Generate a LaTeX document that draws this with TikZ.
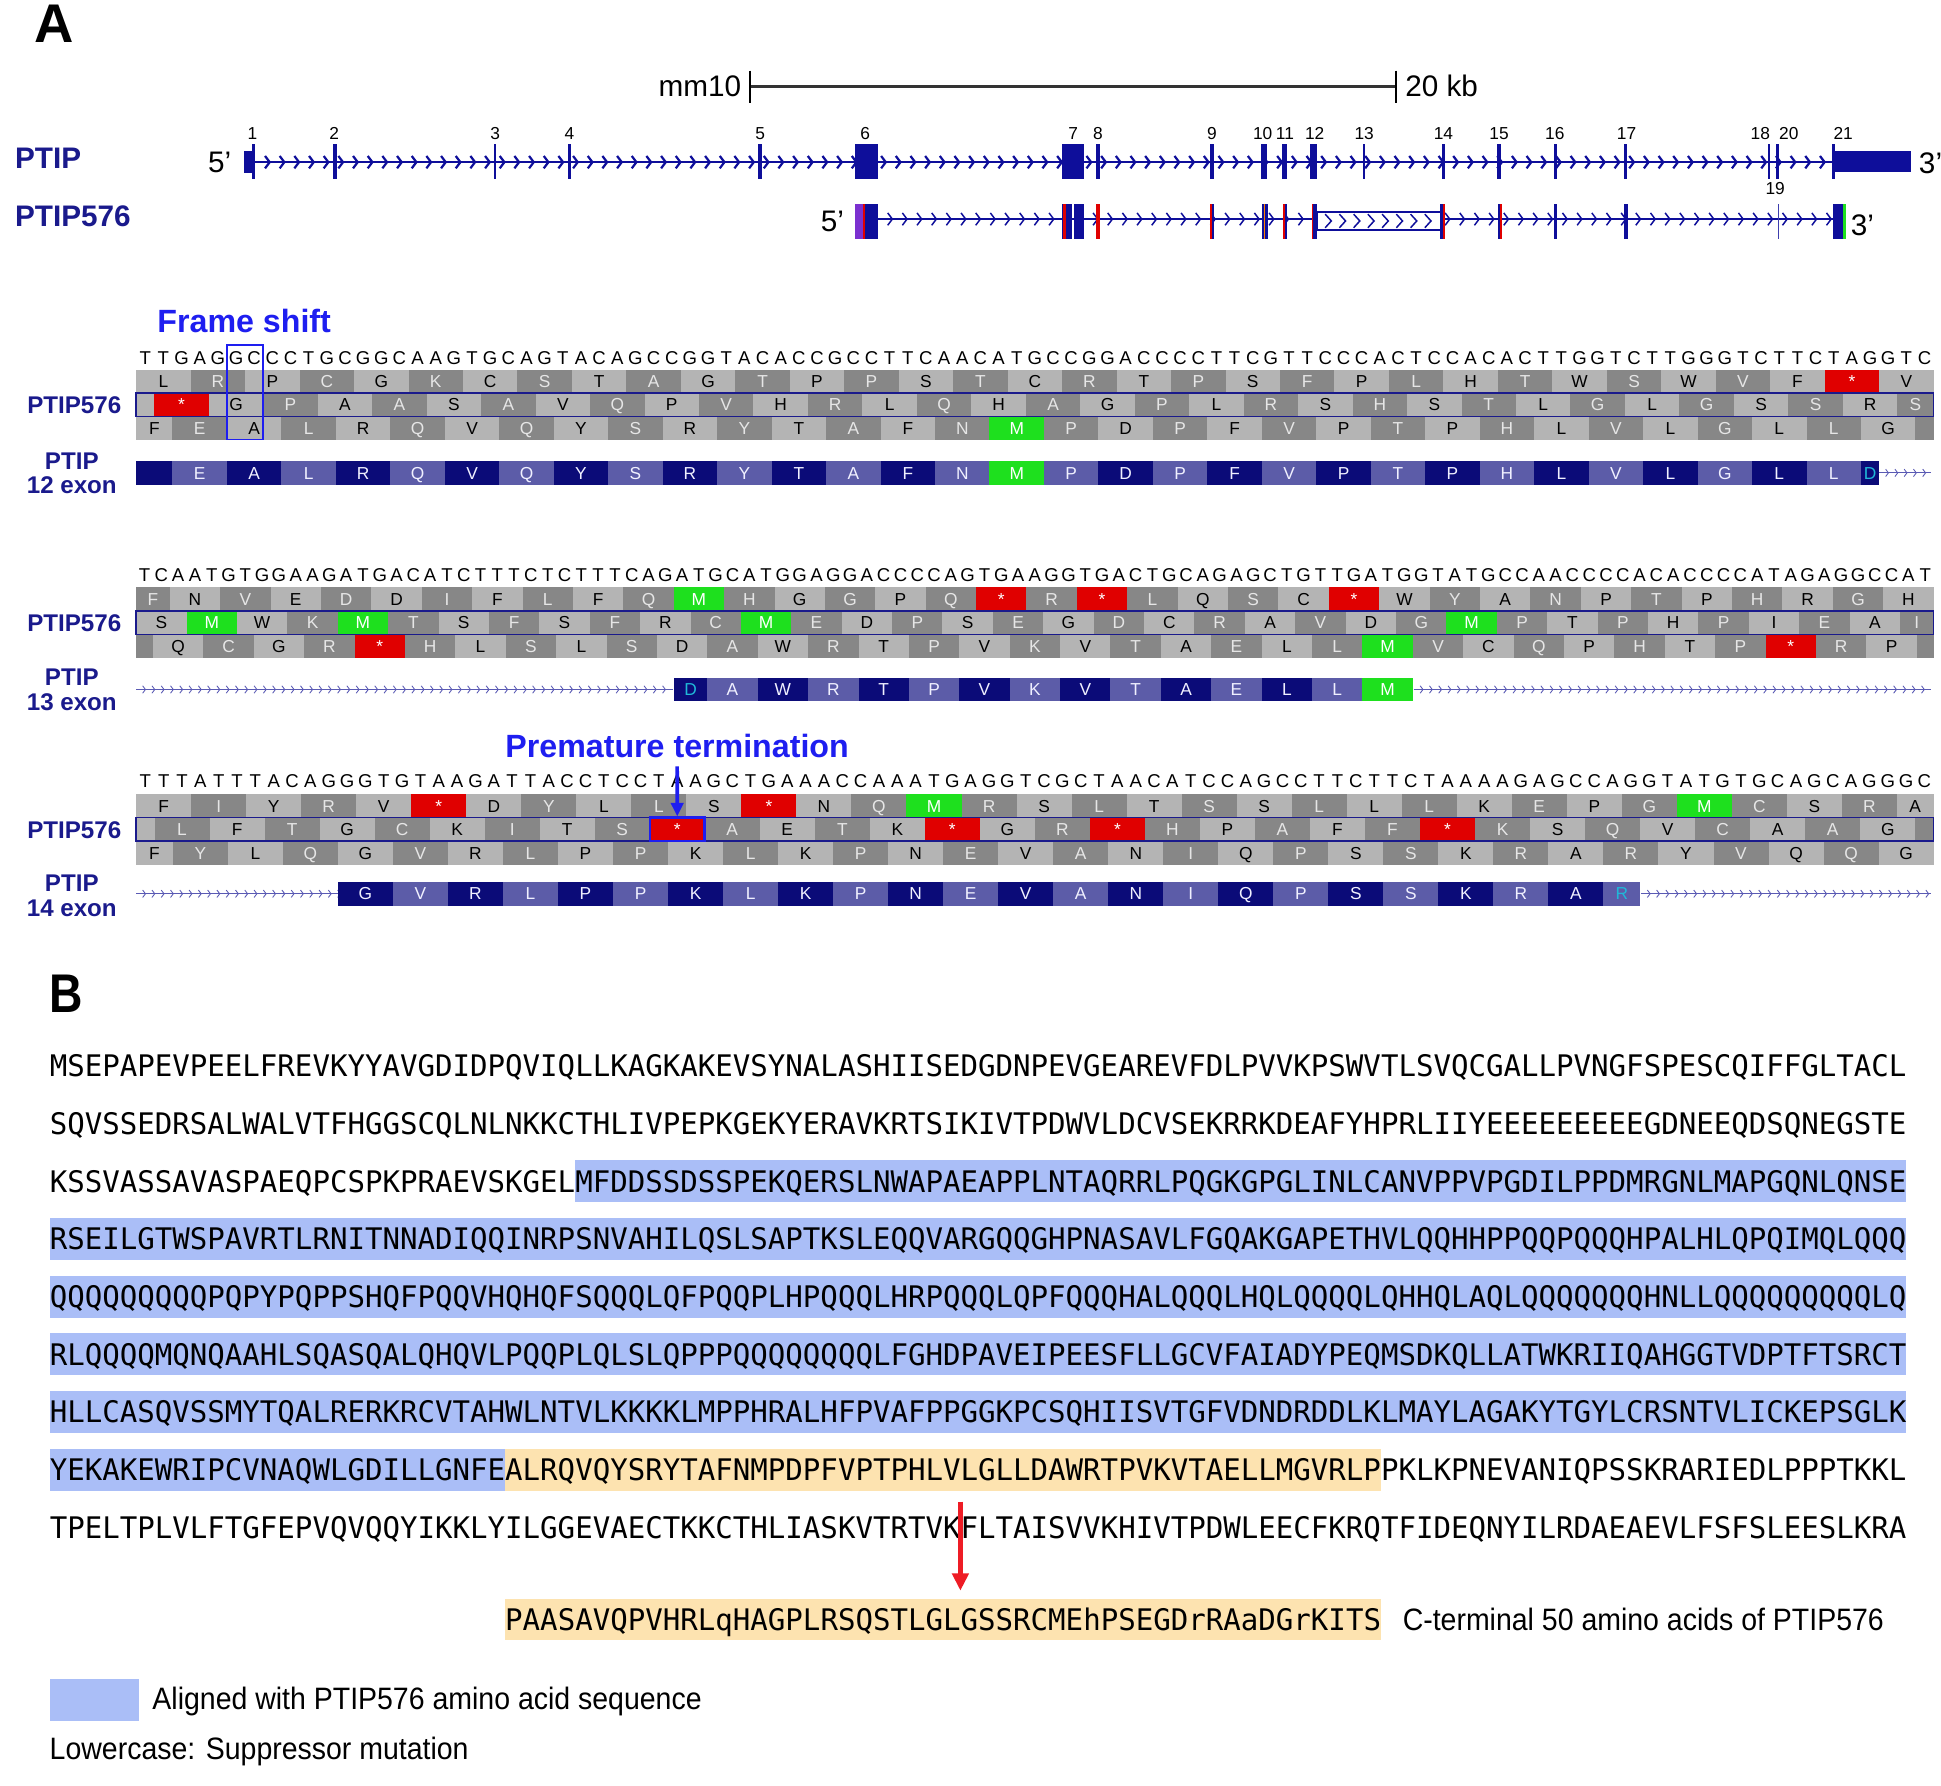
\documentclass[tikz,border=0pt]{standalone}
\usepackage{fontspec}
\setmainfont{Liberation Sans}
\newfontfamily\monofont{DejaVu Sans Mono}
\usetikzlibrary{arrows.meta}
\definecolor{navy}{HTML}{1A1A8C}
\definecolor{trk}{HTML}{0E0E9A}
\definecolor{fsblue}{HTML}{1E1EF0}
\definecolor{glight}{HTML}{B4B4B4}
\definecolor{gdark}{HTML}{878787}
\definecolor{glighttext}{HTML}{000000}
\definecolor{gdarktext}{HTML}{E6E6E6}
\definecolor{elight}{HTML}{5C5CA8}
\definecolor{edark}{HTML}{0B0B78}
\definecolor{elighttext}{HTML}{F0F0FF}
\definecolor{edarktext}{HTML}{F0F0FF}
\definecolor{redc}{HTML}{E00000}
\definecolor{greenc}{HTML}{1EE01E}
\definecolor{cyanc}{HTML}{20B8D8}
\definecolor{hlblue}{HTML}{AABEF7}
\definecolor{hlorange}{HTML}{FDE3B0}
\definecolor{chev}{HTML}{5A5AB4}
\definecolor{violetx}{HTML}{7B30D0}
\definecolor{redarrow}{HTML}{EE1C25}
\newcount\ccnt \newcount\cpar \newcount\nti \newcount\rowid
\def\starL{*}\def\metL{M}
\newcommand\setrow[6]{\global\advance\rowid by 1\relax\def\cxo{#1}\def\cyo{#2}\def\cpitch{#3}\def\ckind{#4}\ccnt=#5\relax\cpar=#6\relax}
\newcommand\drawcell[2]{%
  \def\tmpL{#2}%
  \ifx\tmpL\starL \def\cfill{redc}\def\ctext{white}%
  \else\ifx\tmpL\metL \def\cfill{greenc}\def\ctext{white}%
  \else\ifodd\cpar \edef\cfill{\ckind dark}\edef\ctext{\ckind darktext}%
  \else \edef\cfill{\ckind light}\edef\ctext{\ckind lighttext}\fi\fi\fi
  \fill[fill=\cfill] ({\cxo+\the\ccnt*\cpitch},{\cyo-9.5}) rectangle ({\cxo+(\the\ccnt+#1)*\cpitch},{\cyo+9.5});
  \node[cellletter,text=\ctext] (r\the\rowid c\the\ccnt) at ({\cxo+(\the\ccnt+#1/2)*\cpitch},{\cyo+5}) {#2};
  \advance\ccnt by #1\relax
  \advance\cpar by 1\relax}
\def\cellsloop#1{\ifx#1\relax\else\drawcell{3}{#1}\expandafter\cellsloop\fi}
\newcommand\cellseq[1]{\cellsloop#1\relax}
\newcommand\dnaseq[4]{\global\advance\rowid by 1\relax\def\dxo{#1}\def\dyo{#2}\def\dpitch{#3}\nti=0 \dnaloop#4\relax}
\def\dnaloop#1{\ifx#1\relax\else\node[dnaletter] (d\the\rowid n\the\nti) at ({\dxo+(\the\nti+0.5)*\dpitch},\dyo) {#1};\advance\nti by 1 \expandafter\dnaloop\fi}
\newcommand\chevline[6][chevp]{%
  \draw[#1] (#2,#4) -- (#3,#4);
  \pgfmathsetmacro\chn{int(floor((#3-#2)/#5))}%
  \foreach \k in {1,...,\chn}{\draw[#1] ({#2+\k*#5-0.75*#6},{#4-#6}) -- ({#2+\k*#5},#4) -- ({#2+\k*#5-0.75*#6},{#4+#6});}%
}
\newcommand\pr{\char"0027\relax}
\tikzset{
 panelletter/.style={font=\fontsize{44}{44}\selectfont\bfseries, anchor=base west, inner sep=0},
 trklabel/.style={font=\fontsize{24}{24}\selectfont\bfseries, text=navy, anchor=base west, inner sep=0},
 plabel/.style={font=\fontsize{19.5}{19.5}\selectfont\bfseries, text=navy, anchor=base, inner sep=0},
 primelab/.style={font=\fontsize{24}{24}\selectfont, anchor=base west, inner sep=0},
 exnum/.style={font=\fontsize{14}{14}\selectfont, anchor=base, inner sep=0},
 scalelab/.style={font=\fontsize{24}{24}\selectfont, inner sep=0},
 dnaletter/.style={font=\fontsize{15}{15}\selectfont, anchor=base, inner sep=0},
 cellletter/.style={font=\fontsize{14}{14}\selectfont, anchor=base, inner sep=0},
 callout/.style={font=\fontsize{26}{26}\selectfont\bfseries, text=fsblue, inner sep=0},
 aaline/.style={font=\fontsize{24}{24}\monofont, anchor=base west, inner sep=0, xscale=0.9794},
 legtext/.style={font=\fontsize{25}{25}\selectfont, anchor=base west, inner sep=0, xscale=0.92},
 chevp/.style={draw=chev, line width=0.7},
 chevt/.style={draw=trk, line width=1.8},
 chevs/.style={draw=trk, line width=1.2},
 trkex/.style={fill=trk},
 rowframe/.style={draw=navy, line width=1.2},
}
\begin{document}
\begin{tikzpicture}[x=1pt,y=-1pt]
\useasboundingbox (0,0) rectangle (1568,1442);
\fill[white] (0,0) rectangle (1568,1442);
% ---------------- Panel A header
\node[panelletter] (labA) at (28,34) {A};
\node[scalelab, anchor=base east] (mm) at (599,78) {mm10};
\node[scalelab, anchor=base west] (kb) at (1135,78) {20 kb};
\coordinate (sbl) at (606,70); \coordinate (sbr) at (1128,70);
\draw[line width=2.2, black!80] (sbl) -- (sbr);
\draw[line width=1.4] (606,57) -- (606,83);
\draw[line width=1.4] (1128,57) -- (1128,83);
\node[trklabel] (lptip) at (12,136) {PTIP};
\node[trklabel] (lptip576) at (12,183) {PTIP576};
% PTIP track
\chevline[chevt]{206}{1480}{131}{11.85}{5}
\fill[trk] (197,122) rectangle (206,140);
\foreach \x/\w in {205/2.5,270.5/3,400/2,460/2,614/3,887/4,979/3,1021/5,1038/4,1061/5,1102/2,1166/2,1211/3,1256.5/3,1313/3,1429/2,1436/2,1481/2}
  {\fill[trk] ({\x-\w/2},116) rectangle ({\x+\w/2},145);}
\fill[trk] (691,116) rectangle (709,145);
\fill[trk] (858,116) rectangle (876,145);
\fill[trk] (1481,122) rectangle (1544,139);
\foreach \n/\x in {1/204,2/270,3/400,4/460,5/614,6/699,7/867,8/887,9/979,10/1020,11/1038,12/1062,13/1102,14/1166,15/1211,16/1256,17/1314,18/1422,20/1445,21/1489}
  {\node[exnum] (ex\n) at (\x,113) {\n};}
\node[exnum] (ex19) at (1434,157) {19};
\node[primelab] (p5a) at (168,139) {5\pr};
\node[primelab] (p3a) at (1550,140) {3\pr};
% PTIP576 track
\chevline[chevs]{709}{1481}{177}{11.85}{5}
\fill[violetx] (691,165) rectangle (697,193);
\fill[redc] (697,165) rectangle (699,193);
\fill[trk] (699,165) rectangle (709,193);
\fill[trk] (858,165) rectangle (866,193);
\fill[trk] (867.5,165) rectangle (876,193);
\fill[redc] (859,165) rectangle (861.5,193);
\fill[redc] (885,165) rectangle (889,193);
\fill[trk] (979,165) rectangle (981,193);
\fill[redc] (977.5,165) rectangle (979.2,193);
\fill[trk] (1019.5,165) rectangle (1024,193);
\fill[orange] (1021,165) rectangle (1022,193);
\fill[trk] (1037,165) rectangle (1040,193);
\fill[redc] (1036.5,165) rectangle (1038,193);
\fill[trk] (1059.5,165) rectangle (1064,193);
\fill[redc] (1059.5,165) rectangle (1061,193);
\filldraw[fill=white, draw=trk, line width=1.5] (1064,171.5) rectangle (1165,185.5);
\foreach \k in {1,...,8}{\draw[chevs] ({1064+\k*11.5-5},173) -- ({1064+\k*11.5},178.5) -- ({1064+\k*11.5-5},184);}
\fill[trk] (1163.5,165) rectangle (1166,193);
\fill[redc] (1165.5,165) rectangle (1167,193);
\fill[trk] (1210,165) rectangle (1213,193);
\fill[redc] (1211.5,165) rectangle (1213,193);
\fill[trk] (1255.5,165) rectangle (1258,193);
\fill[trk] (1312,165) rectangle (1315,193);
\fill[trk!80] (1436,165) rectangle (1437.5,193);
\fill[trk] (1481,165) rectangle (1489,193);
\fill[greenc] (1489,165) rectangle (1491,193);
\node[primelab] (p5b) at (663,187) {5\pr};
\node[primelab] (p3b) at (1495,190) {3\pr};
% ---------------- Sequence panel 1 (exon 12)
\node[callout, anchor=base west] (fshift) at (127,269) {Frame shift};
\dnaseq{110}{294.4}{14.6667}{TTGAGGCCCTGCGGCAAGTGCAGTACAGCCGGTACACCGCCTTCAACATGCCGGACCCCTTCGTTCCCACTCCACACTTGGTCTTGGGTCTTCTAGGTC}
\setrow{110}{308}{14.6667}{g}{0}{0}\cellseq{LRPCGKCSTAGTPPSTCRTPSFPLHTWSWVF*V}
\setrow{110}{327}{14.6667}{g}{0}{0}\drawcell{1}{}\cellseq{*GPAASAVQPVHRLQHAGPLRSHSTLGLGSSR}\drawcell{2}{S}
\setrow{110}{346}{14.6667}{g}{0}{0}\drawcell{2}{F}\cellseq{EALRQVQYSRYTAFNMPDPFVPTPHLVLGLLG}\drawcell{1}{}
\draw[rowframe] (110,317.5) rectangle (1562,336.5);
\node[draw=fsblue, line width=1.5, minimum width=29.3, minimum height=76, inner sep=0] (fsbox) at (198,317) {};
\node[plabel] (l1a) at (60,334) {PTIP576};
\node[plabel] (l1b) at (58,379) {PTIP};
\node[plabel] (l1c) at (58,399) {12 exon};
\setrow{110}{382}{14.6667}{e}{0}{1}\drawcell{2}{}\cellseq{EALRQVQYSRYTAFNMPDPFVPTPHLVLGLL}\drawcell{1}{\color{cyanc}D}
\chevline{1518}{1560}{382}{7.5}{3}
% ---------------- Sequence panel 2 (exon 13)
\dnaseq{110}{469.4}{13.5701}{TCAATGTGGAAGATGACATCTTTCTCTTTCAGATGCATGGAGGACCCCAGTGAAGGTGACTGCAGAGCTGTTGATGGTATGCCAACCCCACACCCCATAGAGGCCAT}
\setrow{110}{484}{13.5701}{g}{0}{1}\drawcell{2}{F}\cellseq{NVEDDIFLFQMHGGPQ*R*LQSC*WYANPTPHRGH}
\setrow{110}{503}{13.5701}{g}{0}{0}\cellseq{SMWKMTSFSFRCMEDPSEGDCRAVDGMPTPHPIEA}\drawcell{2}{I}
\setrow{110}{522}{13.5701}{g}{0}{1}\drawcell{1}{}\cellseq{QCGR*HLSLSDAWRTPVKVTAELLMVCQPHTP*RP}\drawcell{1}{}
\draw[rowframe] (110,493.5) rectangle (1562,512.5);
\node[plabel] (l2a) at (60,510) {PTIP576};
\node[plabel] (l2b) at (58,554) {PTIP};
\node[plabel] (l2c) at (58,574) {13 exon};
\chevline{110}{544}{557}{7.5}{3}
\setrow{110}{557}{13.5701}{e}{32}{1}\drawcell{2}{\color{cyanc}D}\cellseq{AWRTPVKVTAELLM}
\chevline{1142}{1560}{557}{7.5}{3}
% ---------------- Sequence panel 3 (exon 14)
\node[callout, anchor=base] (prem) at (547,612) {Premature termination};
\dnaseq{110}{636.4}{14.8163}{TTTATTTACAGGGTGTAAGATTACCTCCTAAGCTGAAACCAAATGAGGTCGCTAACATCCAGCCTTCTTCTAAAAGAGCCAGGTATGTGCAGCAGGGC}
\setrow{110}{651}{14.8163}{g}{0}{0}\cellseq{FIYRV*DYLLS*NQMRSLTSSLLLKEPGMCSR}\drawcell{2}{A}
\setrow{110}{670}{14.8163}{g}{0}{0}\drawcell{1}{}\cellseq{LFTGCKITS*AETK*GR*HPAFF*KSQVCAAG}\drawcell{1}{}
\setrow{110}{689}{14.8163}{g}{0}{0}\drawcell{2}{F}\cellseq{YLQGVRLPPKLKPNEVANIQPSSKRARYVQQG}
\draw[rowframe] (110,660.5) rectangle (1562,679.5);
\node[draw=fsblue, line width=2, minimum width=44.4, minimum height=19, inner sep=0] (premstop) at (547.1,670) {};
\coordinate (ptarrow) at (547,619);
\draw[fsblue, line width=3, -{Triangle[width=10,length=11]}] (ptarrow) -- (premstop.north);
\node[plabel] (l3a) at (60,677) {PTIP576};
\node[plabel] (l3b) at (58,720) {PTIP};
\node[plabel] (l3c) at (58,740) {14 exon};
\chevline{110}{275}{722}{7.5}{3}
\setrow{110}{722}{14.8163}{e}{11}{1}\cellseq{GVRLPPKLKPNEVANIQPSSKRA}\drawcell{2}{\color{cyanc}R}
\chevline{1325.5}{1560}{722}{7.5}{3}
% ---------------- Panel B
\node[panelletter, xscale=0.85] (labB) at (40,818) {B};
\def\cw{14.1509}
\fill[hlblue] ({40+30*\cw},937.2) rectangle (1540,971.2);
\foreach \yy in {1000.8,1047.4,1094,1140.6}{\fill[hlblue] (40,{\yy-17}) rectangle (1540,{\yy+17});}
\fill[hlblue] (40,1170.2) rectangle ({40+26*\cw},1204.2);
\fill[hlorange] ({40+26*\cw},1170.2) rectangle ({40+76*\cw},1204.2);
\node[aaline] (b1) at (40,869.75) {MSEPAPEVPEELFREVKYYAVGDIDPQVIQLLKAGKAKEVSYNALASHIISEDGDNPEVGEAREVFDLPVVKPSWVTLSVQCGALLPVNGFSPESCQIFFGLTACL};
\node[aaline] (b2) at (40,916.35) {SQVSSEDRSALWALVTFHGGSCQLNLNKKCTHLIVPEPKGEKYERAVKRTSIKIVTPDWVLDCVSEKRRKDEAFYHPRLIIYEEEEEEEEEGDNEEQDSQNEGSTE};
\node[aaline] (b3) at (40,962.95) {KSSVASSAVASPAEQPCSPKPRAEVSKGELMFDDSSDSSPEKQERSLNWAPAEAPPLNTAQRRLPQGKGPGLINLCANVPPVPGDILPPDMRGNLMAPGQNLQNSE};
\node[aaline] (b4) at (40,1009.55) {RSEILGTWSPAVRTLRNITNNADIQQINRPSNVAHILQSLSAPTKSLEQQVARGQQGHPNASAVLFGQAKGAPETHVLQQHHPPQQPQQQHPALHLQPQIMQLQQQ};
\node[aaline] (b5) at (40,1056.15) {QQQQQQQQQPQPYPQPPSHQFPQQVHQHQFSQQQLQFPQQPLHPQQQLHRPQQQLQPFQQQHALQQQLHQLQQQQLQHHQLAQLQQQQQQQHNLLQQQQQQQQQLQ};
\node[aaline] (b6) at (40,1102.75) {RLQQQQMQNQAAHLSQASQALQHQVLPQQPLQLSLQPPPQQQQQQQQLFGHDPAVEIPEESFLLGCVFAIADYPEQMSDKQLLATWKRIIQAHGGTVDPTFTSRCT};
\node[aaline] (b7) at (40,1149.35) {HLLCASQVSSMYTQALRERKRCVTAHWLNTVLKKKKLMPPHRALHFPVAFPPGGKPCSQHIISVTGFVDNDRDDLKLMAYLAGAKYTGYLCRSNTVLICKEPSGLK};
\node[aaline] (b8) at (40,1195.95) {YEKAKEWRIPCVNAQWLGDILLGNFEALRQVQYSRYTAFNMPDPFVPTPHLVLGLLDAWRTPVKVTAELLMGVRLPPKLKPNEVANIQPSSKRARIEDLPPPTKKL};
\node[aaline] (b9) at (40,1242.55) {TPELTPLVLFTGFEPVQVQQYIKKLYILGGEVAECTKKCTHLIASKVTRTVKFLTAISVVKHIVTPDWLEECFKRQTFIDEQNYILRDAEAEVLFSFSLEESLKRA};
\fill[hlorange] ({40+26*\cw},1291.5) rectangle ({40+76*\cw},1325);
\node[aaline] (cterm) at ({40+26*\cw},1316.75) {PAASAVQPVHRLqHAGPLRSQSTLGLGSSRCMEhPSEGDrRAaDGrKITS};
\node[legtext] (ctermlab) at (1133,1317) {C-terminal 50 amino acids of PTIP576};
\coordinate (kf) at ({40+52*\cw},1213);
\coordinate (kftip) at ({40+52*\cw},1285);
\draw[redarrow, line width=3.5, -{Triangle[width=13,length=14]}] (kf) -- (kftip);
\fill[hlblue] (40,1356) rectangle (112,1390);
\node[legtext] (leg1) at (123,1381) {Aligned with PTIP576 amino acid sequence};
\node[legtext] (leg2) at (40,1421) {Lowercase: Suppressor mutation};
\end{tikzpicture}
\end{document}
